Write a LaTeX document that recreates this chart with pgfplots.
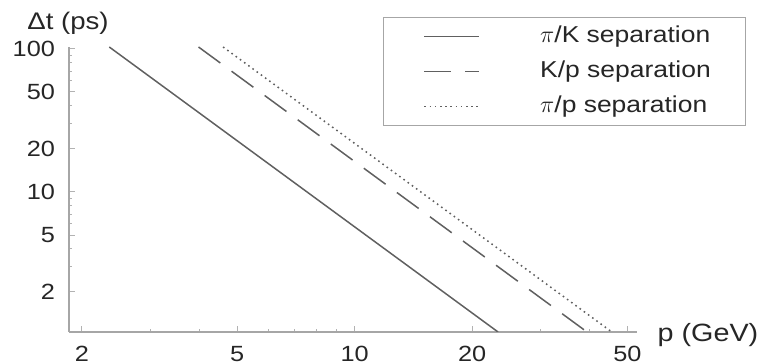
\documentclass[border=0pt]{standalone}
\usepackage{fontspec}
\setmainfont[FakeStretch=1.15]{Liberation Sans}
\usepackage{pgfplots}
\pgfplotsset{compat=1.18}
\newcommand\lt[1]{\makebox[82.5pt][l]{#1}}
\begin{document}
\begin{tikzpicture}
\begin{axis}[
  name=ax,
  scale only axis, width=284pt, height=142.5pt,
  xmode=log, ymode=log,
  xmin=1.853, xmax=52.9, ymin=1.05, ymax=103,
  axis lines=left,
  axis line style={gray!70, line width=0.6pt, -},
  xtick={2,5,10,20,50}, xticklabels={2,5,10,20,50},
  minor xtick={3,4,6,7,8,9,30,40},
  ytick={2,5,10,20,50,100}, yticklabels={2,5,10,20,50,100},
  minor ytick={3,4,6,7,8,9,30,40,60,70,80,90},
  tick align=inside,
  major tick length=3pt, minor tick length=1.5pt,
  every tick/.style={gray!60, line width=0.5pt},
  /pgf/number format/assume math mode=true,
  ticklabel style={font=\fontsize{11}{12}\selectfont, text=black!85},
  xticklabel style={yshift=-3.5pt},
  yticklabel style={xshift=-3.5pt},
  legend style={at={(axis description cs:0.553,1.105)}, anchor=north west,
    draw=gray!70, line width=0.6pt, fill=white,
    font=\fontsize{11.5}{14}\selectfont, text=black!85,
    inner xsep=20pt, inner ysep=3.5pt, row sep=5.5pt,
    nodes={inner sep=0pt, text height=9pt, text depth=3pt},
    /tikz/every odd column/.append style={column sep=30pt}},
  legend cell align=left,
  legend image code/.code={\draw[#1] (0pt,0pt) -- (27.5pt,0pt);},
]
\addplot[gray!75!black, line width=0.75pt] coordinates {(2.35,103) (23.3,1.05)};
\addlegendentry{\lt{$\pi$/K separation}}
\addplot[gray!75!black, line width=0.75pt, dash pattern=on 13.5pt off 7pt] coordinates {(3.98,103) (39.4,1.05)};
\addlegendentry{\lt{K/p separation}}
\addplot[gray!75!black, line width=0.75pt, dash pattern=on 0.8pt off 1.8pt] coordinates {(4.60,103) (45.6,1.05)};
\addlegendentry{\lt{$\pi$/p separation}}
\end{axis}
\node[font=\fontsize{12}{14}\selectfont, text=black!85] at ([shift={(-0.5pt,12pt)}]ax.north west) {Δt (ps)};
\node[font=\fontsize{12.5}{14}\selectfont, text=black!85] at ([shift={(35.5pt,-1.5pt)}]ax.south east) {p (GeV)};
\pgfresetboundingbox
\path[use as bounding box] ([shift={(-34.5pt,-15.5pt)}]ax.south west) rectangle ([shift={(61pt,23.5pt)}]ax.north east);
\end{tikzpicture}
\end{document}
